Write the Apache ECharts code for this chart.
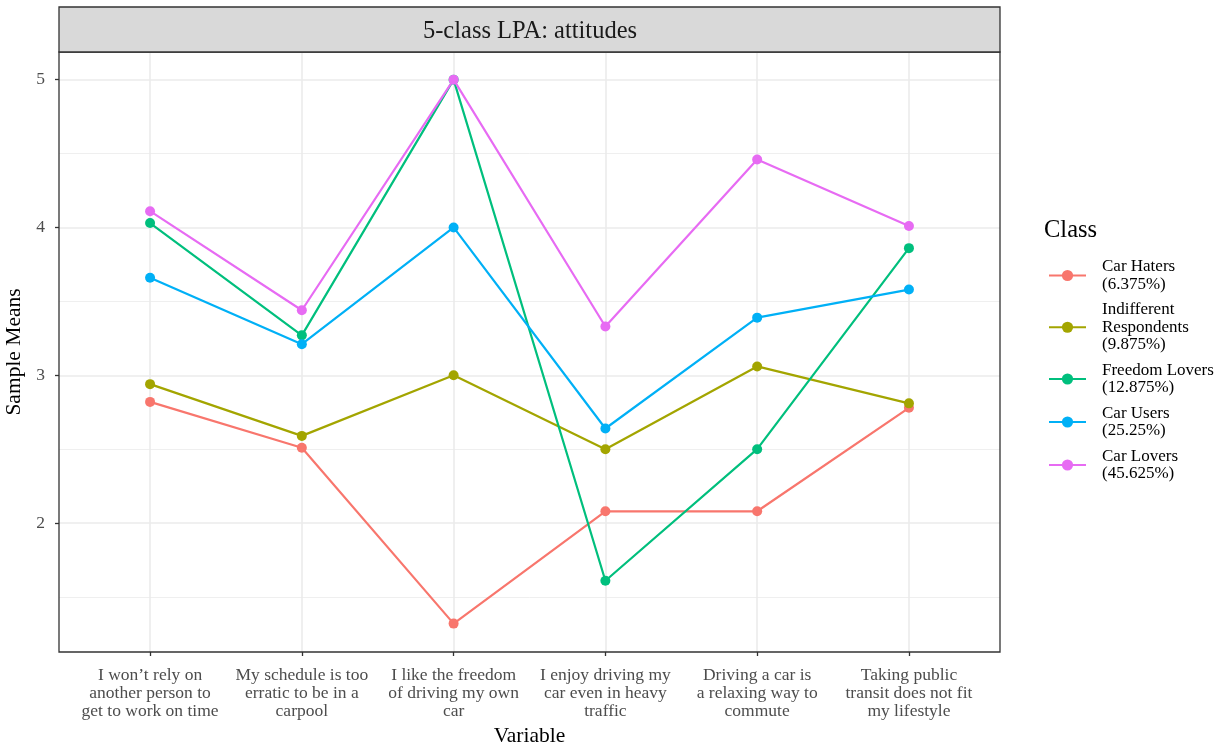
<!DOCTYPE html>
<html>
<head>
<meta charset="utf-8">
<script src="https://cdn.jsdelivr.net/npm/echarts@6/dist/echarts.min.js"></script>
<style>html,body{margin:0;padding:0;background:#fff;}#c{width:1222px;height:748px;}</style>
</head>
<body>
<div id="c"></div>
<script>
const categories = [
  "I won\u2019t rely on\nanother person to\nget to work on time",
  "My schedule is too\nerratic to be in a\ncarpool",
  "I like the freedom\nof driving my own\ncar",
  "I enjoy driving my\ncar even in heavy\ntraffic",
  "Driving a car is\na relaxing way to\ncommute",
  "Taking public\ntransit does not fit\nmy lifestyle"
];
const seriesNames = [
  "Car Haters\n(6.375%)",
  "Indifferent\nRespondents\n(9.875%)",
  "Freedom Lovers\n(12.875%)",
  "Car Users\n(25.25%)",
  "Car Lovers\n(45.625%)"
];
const carHaters     = [2.82, 2.51, 1.32, 2.08, 2.08, 2.78];
const indifferent   = [2.94, 2.59, 3.00, 2.50, 3.06, 2.81];
const freedomLovers = [4.03, 3.27, 5.00, 1.61, 2.50, 3.86];
const carUsers      = [3.66, 3.21, 4.00, 2.64, 3.39, 3.58];
const carLovers     = [4.11, 3.44, 5.00, 3.33, 4.46, 4.01];
const yTicks = [2, 3, 4, 5];
const yMinorTicks = [1.5, 2.5, 3.5, 4.5];
const colors = ["#F8766D", "#A3A500", "#00BF7D", "#00B0F6", "#E76BF3"];

const allValues = [carHaters, indifferent, freedomLovers, carUsers, carLovers];
const xIdx = categories.map((_, i) => i);
const font = "Liberation Serif";

const chart = echarts.init(document.getElementById('c'), null, {renderer: 'canvas'});

const gridSeries = {
  type: 'line', data: [], z: 1, silent: true, symbol: 'none',
  markLine: {
    silent: true, z: 1, symbol: ['none', 'none'], label: {show: false}, animation: false,
    emphasis: {disabled: true},
    data: [
      ...yMinorTicks.map(v => ({yAxis: v, lineStyle: {color: '#EBEBEB', width: 0.8, type: 'solid'}})),
      ...yTicks.map(v => ({yAxis: v, lineStyle: {color: '#EBEBEB', width: 1.6, type: 'solid'}})),
      ...xIdx.map(v => ({xAxis: v, lineStyle: {color: '#EBEBEB', width: 1.6, type: 'solid'}}))
    ]
  }
};

const dataSeries = allValues.map((vals, s) => ({
  name: seriesNames[s],
  type: 'line',
  z: 10 + s,
  data: vals.map((v, i) => [i, v]),
  symbol: 'circle',
  symbolSize: 10,
  lineStyle: {width: 2.2, color: colors[s]},
  itemStyle: {color: colors[s]},
  emphasis: {disabled: true},
  animation: false
}));

chart.setOption({
  animation: false,
  textStyle: {fontFamily: font},
  color: colors,
  grid: {left: 59, right: 222, top: 52, bottom: 96, outerBoundsMode: 'none', containLabel: false,
         show: true, borderColor: '#333333', borderWidth: 1.3, backgroundColor: 'transparent', z: 20},
  xAxis: {
    type: 'value', min: -0.6, max: 5.6,
    name: 'Variable', nameLocation: 'middle', nameGap: 72,
    nameTextStyle: {fontFamily: font, fontSize: 21.5, color: '#000'},
    axisLine: {show: false, onZero: false},
    axisTick: {show: true, customValues: xIdx, length: 4, lineStyle: {color: '#333333', width: 1.3}},
    axisLabel: {customValues: xIdx, formatter: v => categories[Math.round(v)], fontFamily: font, fontSize: 17.5, lineHeight: 18, color: '#4D4D4D', margin: 14, align: 'center'},
    splitLine: {show: false}
  },
  yAxis: {
    type: 'value', min: 1.128, max: 5.187,
    name: 'Sample Means', nameLocation: 'middle', nameGap: 29, nameRotate: 90,
    nameTextStyle: {fontFamily: font, fontSize: 21.5, color: '#000'},
    axisLine: {show: false, onZero: false},
    axisTick: {show: true, customValues: yTicks, length: 4, lineStyle: {color: '#333333', width: 1.3}},
    axisLabel: {customValues: yTicks, fontFamily: font, fontSize: 17.5, color: '#4D4D4D', margin: 14},
    splitLine: {show: false}
  },
  legend: {
    orient: 'vertical', left: 1043, top: 253,
    itemWidth: 37, itemHeight: 14, itemGap: 8,
    textStyle: {fontFamily: font, fontSize: 17, color: '#000', lineHeight: 17.5, padding: [0, 0, 0, 11]},
    data: seriesNames,
    selectedMode: false
  },
  graphic: [
    {type: 'rect', shape: {x: 59, y: 7, width: 941, height: 45}, style: {fill: '#D9D9D9', stroke: '#333333', lineWidth: 1.3}, z: 30},
    {type: 'text', x: 530, y: 32, style: {text: '5-class LPA: attitudes', font: '24.5px "Liberation Serif"', fill: '#1A1A1A', textAlign: 'center', textVerticalAlign: 'middle'}, z: 31},
    {type: 'text', x: 1044, y: 231, style: {text: 'Class', font: '24.5px "Liberation Serif"', fill: '#000', textAlign: 'left', textVerticalAlign: 'middle'}, z: 31}
  ],
  series: [gridSeries, ...dataSeries]
});
</script>
</body>
</html>
